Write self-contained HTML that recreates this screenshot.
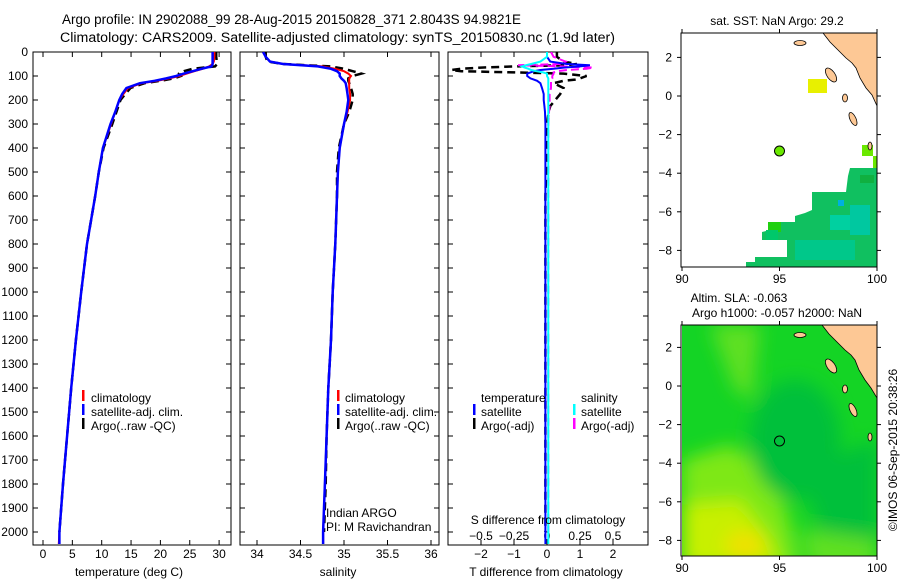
<!DOCTYPE html>
<html><head><meta charset="utf-8"><style>
body{margin:0;background:#fff}
svg{display:block;font-family:"Liberation Sans",sans-serif}
text{font-size:12px;fill:#000}
</style></head><body>
<svg id="c" width="900" height="580" viewBox="0 0 900 580">
<defs>
<clipPath id="cp1"><rect x="33" y="52" width="198" height="493"/></clipPath>
<clipPath id="cp2"><rect x="240" y="52" width="199" height="493"/></clipPath>
<clipPath id="cp3"><rect x="448" y="52" width="200" height="493"/></clipPath>
<clipPath id="cm1"><rect x="682" y="33" width="195" height="234"/></clipPath>
<clipPath id="cm2"><rect x="682" y="325" width="195" height="231"/></clipPath>
<filter id="bl"><feGaussianBlur stdDeviation="9"/></filter>
</defs>
<text x="62" y="24" style="font-size:13.5px" textLength="459" lengthAdjust="spacingAndGlyphs">Argo profile: IN 2902088_99 28-Aug-2015 20150828_371 2.8043S 94.9821E</text>
<text x="60" y="42" style="font-size:13.5px" textLength="555" lengthAdjust="spacingAndGlyphs">Climatology: CARS2009. Satellite-adjusted climatology: synTS_20150830.nc (1.9d later)</text>
<g id="axes"></g>
<g id="marks"></g>

<!-- map 1 -->
<g clip-path="url(#cm1)">
<rect x="682" y="33" width="195" height="234" fill="#fff"/>
<polygon fill="#10c060" points="854,168 877,168 877,267 746,267 746,262 755,262 755,257 787,257 787,240 762,240 762,232 770,230 770,222 795,222 795,216 805,213 812,210 812,192 846,192 848,176 850,168"/>
<rect x="768" y="222" width="13" height="10" fill="#20d010"/>
<rect x="766" y="230" width="12" height="10" fill="#00c86a"/>
<rect x="795" y="240" width="60" height="20" fill="#00c88a"/>
<rect x="830" y="215" width="20" height="15" fill="#00d0a0"/>
<rect x="850" y="205" width="20" height="30" fill="#00c8a0"/>
<rect x="838" y="200" width="6" height="6" fill="#00b0e0"/>
<rect x="860" y="175" width="14" height="8" fill="#10b040"/>
<rect x="808" y="79" width="19" height="14" fill="#e8f000"/>
<rect x="862" y="145" width="11" height="11" fill="#6ae800"/>
<rect x="873" y="156" width="4" height="12" fill="#6ae800"/>
<polygon fill="#fdc895" stroke="#000" stroke-width="0.8" points="823,33 830,42 838,50 846,58 852,63 856,68 860,78 866,88 872,95 877,106 877,33"/>
<ellipse cx="800" cy="43" rx="6" ry="2.5" fill="#fdc895" stroke="#000" stroke-width="0.8"/>
<ellipse cx="831" cy="75" rx="4" ry="8" transform="rotate(-35 831 75)" fill="#fdc895" stroke="#000" stroke-width="0.8"/>
<ellipse cx="853" cy="119" rx="3" ry="7" transform="rotate(-25 853 119)" fill="#fdc895" stroke="#000" stroke-width="0.8"/>
<ellipse cx="845" cy="98" rx="2.5" ry="4" fill="#fdc895" stroke="#000" stroke-width="0.8"/>
<ellipse cx="870" cy="146" rx="2" ry="4" fill="#fdc895" stroke="#000" stroke-width="0.8"/>
<circle cx="779.5" cy="151" r="5" fill="#6ae800" stroke="#000" stroke-width="1"/>
</g>
<rect x="681" y="33" width="196" height="234" fill="none" stroke="#000"/>
<text x="777" y="25" text-anchor="middle">sat. SST: NaN Argo: 29.2</text>

<!-- map 2 -->
<g clip-path="url(#cm2)">
<rect x="682" y="325" width="195" height="231" fill="#14d425"/>
<g filter="url(#bl)">
<polygon fill="#7ee818" points="682,460 730,445 770,470 790,520 800,570 682,570"/>
<polygon fill="#c8f000" points="682,505 740,500 770,540 780,570 682,570"/>
<ellipse cx="745" cy="545" rx="20" ry="14" fill="#f0e000"/>
<polygon fill="#5ee020" points="710,325 760,325 752,400 735,390"/>
<ellipse cx="795" cy="440" rx="45" ry="60" fill="#06c03a"/>
<polygon fill="#06c03a" points="800,470 877,440 877,540 820,530"/>
<polygon fill="#60e020" points="800,530 877,540 877,570 810,570"/>
</g>
<polygon fill="#fdc895" stroke="#000" stroke-width="0.8" points="822,325 829,334 837,342 845,350 851,355 855,360 859,370 865,380 871,388 877,398 877,325"/>
<ellipse cx="800" cy="335" rx="6" ry="2.5" fill="#fdc895" stroke="#000" stroke-width="0.8"/>
<ellipse cx="831" cy="366" rx="4" ry="8" transform="rotate(-35 831 366)" fill="#fdc895" stroke="#000" stroke-width="0.8"/>
<ellipse cx="853" cy="410" rx="3" ry="7" transform="rotate(-25 853 410)" fill="#fdc895" stroke="#000" stroke-width="0.8"/>
<ellipse cx="845" cy="389" rx="2.5" ry="4" fill="#fdc895" stroke="#000" stroke-width="0.8"/>
<ellipse cx="870" cy="437" rx="2" ry="4" fill="#fdc895" stroke="#000" stroke-width="0.8"/>
<circle cx="779.5" cy="441" r="5" fill="none" stroke="#000" stroke-width="1"/>
</g>
<rect x="681" y="325" width="196" height="231" fill="none" stroke="#000"/>
<text x="739" y="302" text-anchor="middle">Altim. SLA: -0.063</text>
<text x="777" y="317" text-anchor="middle">Argo h1000: -0.057 h2000: NaN</text>
<text x="0" y="0" transform="translate(897,450) rotate(-90)" text-anchor="middle">©IMOS 06-Sep-2015 20:38:26</text>

<!-- legends -->
<g>
<rect x="82" y="390" width="2.5" height="11" fill="#f00"/><text x="91" y="402">climatology</text>
<rect x="82" y="404" width="2.5" height="11" fill="#00f"/><text x="91" y="416">satellite-adj. clim.</text>
<rect x="82" y="418" width="2.5" height="11" fill="#000"/><text x="91" y="430">Argo(..raw -QC)</text>
</g>
<g>
<rect x="337" y="390" width="2.5" height="11" fill="#f00"/><text x="345" y="402">climatology</text>
<rect x="337" y="404" width="2.5" height="11" fill="#00f"/><text x="345" y="416">satellite-adj. clim.</text>
<rect x="337" y="418" width="2.5" height="11" fill="#000"/><text x="345" y="430">Argo(..raw -QC)</text>
<text x="326" y="517">Indian ARGO</text><text x="326" y="531">PI: M Ravichandran</text>
</g>
<g>
<text x="481" y="402">temperature</text><text x="581" y="402">salinity</text>
<rect x="473" y="404" width="2.5" height="11" fill="#00f"/><text x="481" y="416">satellite</text>
<rect x="473" y="418" width="2.5" height="11" fill="#000"/><text x="481" y="430">Argo(-adj)</text>
<rect x="573" y="404" width="2.5" height="11" fill="#0ff"/><text x="581" y="416">satellite</text>
<rect x="573" y="418" width="2.5" height="11" fill="#f0f"/><text x="581" y="430">Argo(-adj)</text>
</g>
<text x="548" y="524" text-anchor="middle">S difference from climatology</text>
<text x="129" y="576" text-anchor="middle">temperature (deg C)</text>
<text x="338" y="576" text-anchor="middle">salinity</text>
<text x="546" y="576" text-anchor="middle">T difference from climatology</text>
</svg>
<script>
const depthTicks=[0,100,200,300,400,500,600,700,800,900,1000,1100,1200,1300,1400,1500,1600,1700,1800,1900,2000];
const tempTicks=[0,5,10,15,20,25,30];
const salTicks=[34,34.5,35,35.5,36];
const tDiffTicks=[-2,-1,0,1,2];
const sDiffTicks=[-0.5,-0.25,0,0.25,0.5];
const sDiffLabels=["-0.5","-0.25","0","0.25","0.5"];
const latTicks=[2,0,-2,-4,-6,-8];
const lonTicks=[90,95,100];

const depths=[0,20,40,50,60,70,80,90,100,110,120,130,150,175,200,250,300,400,500,600,800,1000,1200,1400,1600,1800,2000,2050];
const tempClim=[29.2,29.2,29.1,28.9,28.3,27.2,25.8,24.5,23.2,21.5,19.5,16.8,14.5,13.7,13.0,12.3,11.6,10.2,9.5,8.9,7.5,6.5,5.6,4.8,4.1,3.4,2.8,2.7];
const tempSat=[28.9,28.9,28.9,28.9,28.7,27.0,25.5,24.0,22.7,21.0,19.0,16.5,14.2,13.5,13.0,12.3,11.5,10.2,9.5,8.9,7.5,6.5,5.6,4.8,4.1,3.4,2.8,2.8];
const tempArgo=[29.5,29.5,29.6,29.7,29.3,25.5,24.0,23.2,23.5,22.3,20.0,17.3,14.9,14.0,13.2,12.5,11.8,10.3,9.5,8.9,7.5,6.5,5.6,4.8,4.1,3.4,2.8,null];
const salClim=[34.07,34.1,34.15,34.3,34.75,34.9,35.0,35.05,35.08,35.06,35.06,35.06,35.06,35.07,35.07,35.04,35.0,34.95,34.93,34.92,34.9,34.87,34.85,34.82,34.8,34.78,34.76,34.76];
const salSat=[34.07,34.1,34.15,34.3,34.7,34.85,34.92,34.95,34.95,34.97,35.0,35.02,35.03,35.04,35.05,35.03,35.0,34.95,34.93,34.92,34.9,34.87,34.85,34.82,34.8,34.78,34.76,34.76];
const salArgo=[34.1,34.1,34.12,34.3,34.85,35.0,35.1,35.2,35.1,35.05,35.05,35.06,35.08,35.1,35.1,35.06,35.0,34.94,34.92,34.92,34.9,34.87,34.85,34.82,34.8,34.79,34.77,null];

const dDepths=[0,20,40,50,55,60,65,70,75,80,85,90,100,110,115,120,130,150,175,200,225,250,300,400,600,1000,1500,2000,2050];
const tDiffSat=[0,0,0.1,0.6,1.3,1.0,0.5,0.2,-0.2,-0.4,-0.5,-0.6,-0.6,-0.5,-0.4,-0.3,-0.2,-0.15,-0.1,-0.1,-0.08,-0.06,-0.05,-0.05,-0.05,-0.05,-0.05,-0.05,-0.05];
const tDiffArgo=[0.3,0.3,0.5,0.9,0.6,-1.0,-2.0,-2.6,-2.9,-2.6,-1.0,0.5,1.2,1.0,0.85,0.5,0.2,0.5,0.4,0.25,0.1,0.05,0,0,-0.05,-0.05,-0.05,-0.05,null];
const sDiffSat=[0,0,-0.05,-0.12,-0.16,-0.19,-0.17,-0.14,-0.12,-0.08,-0.03,0,0,0.01,0.01,0.01,0.01,0.01,0.01,0.01,0.01,0.01,0.01,0.01,0.01,0.01,0.01,0.01,0.01];
const sDiffArgo=[0.03,0.05,0.14,0.1,-0.22,0.1,0.35,0.3,0.15,0.08,0.05,0.05,0.04,0.04,0.03,0.03,0.03,0.03,0.02,0.02,0.02,0.015,0.01,0.01,0.01,0.01,0.01,0.01,null];

const NS='http://www.w3.org/2000/svg';
const axes=document.getElementById('axes'), marks=document.getElementById('marks');
function mk(tag,at,par){const e=document.createElementNS(NS,tag);for(const k in at)e.setAttribute(k,at[k]);(par||axes).appendChild(e);return e;}
const yD=d=>52+d*0.24;
const xT=t=>43+t*5.87;
const xS=s=>257+(s-34)*87;
const xTd=v=>547+v*33;
const xSd=v=>547+v*132;
const panels=[[33,231],[240,439],[448,648]];
panels.forEach(([a,b],i)=>{
  const r=mk('rect',{x:a,y:52,width:b-a,height:493,fill:'none',stroke:'#000'});
  
  
  depthTicks.forEach(d=>{
    mk('line',{x1:a,x2:a+5,y1:yD(d),y2:yD(d),stroke:'#000'});
    mk('line',{x1:b,x2:b-5,y1:yD(d),y2:yD(d),stroke:'#000'});
  });
});
depthTicks.forEach(d=>{const t=mk('text',{x:28,y:yD(d)+4,'text-anchor':'end'});t.textContent=d;
  });
function xticks(vals,fx,labs,ylab){vals.forEach((v,i)=>{const x=fx(v);
  mk('line',{x1:x,x2:x,y1:545,y2:540,stroke:'#000'});mk('line',{x1:x,x2:x,y1:52,y2:57,stroke:'#000'});
  const t=mk('text',{x:x,y:ylab,'text-anchor':'middle'});t.textContent=labs?labs[i]:v;
  });}
xticks(tempTicks,xT,null,558);
xticks(salTicks,xS,null,558);
xticks(tDiffTicks,xTd,tDiffTicks.map(v=>v<0?'\u2212'+(-v):v),558);
sDiffTicks.forEach((v,i)=>{const t=mk('text',{x:xSd(v),y:540,'text-anchor':'middle'});t.textContent=sDiffLabels[i].replace('-','\u2212');
  });
function line(xs,ds,fx,col,dash,clip,name,w){let p='',pen=false;
  xs.forEach((v,i)=>{if(v===null){pen=false;return;}p+=(pen?'L':'M')+fx(v).toFixed(1)+' '+yD(ds[i]).toFixed(1);pen=true;});
  const at={d:p,fill:'none',stroke:col,'stroke-width':w||2,'clip-path':'url(#'+clip+')'};if(dash)at['stroke-dasharray']=dash;
  const e=mk('path',at,marks);
  
  }
line(tempArgo,depths,xT,'#000','8 5','cp1','temp-argo-line',2.5);
line(tempClim,depths,xT,'#f00',null,'cp1','temp-climatology-line');
line(tempSat,depths,xT,'#00f',null,'cp1','temp-satellite-line',2.5);
line(salArgo,depths,xS,'#000','8 5','cp2','sal-argo-line',2.5);
line(salClim,depths,xS,'#f00',null,'cp2','sal-climatology-line');
line(salSat,depths,xS,'#00f',null,'cp2','sal-satellite-line',2.5);
line(tDiffArgo,dDepths,xTd,'#000','8 5','cp3','t-diff-argo-line',2.5);
line(sDiffArgo,dDepths,xSd,'#f0f','8 4','cp3','s-diff-argo-line');
line(tDiffSat,dDepths,xTd,'#00f',null,'cp3','t-diff-satellite-line');
line(sDiffSat,dDepths,xSd,'#0ff',null,'cp3','s-diff-satellite-line');
// maps axes
const xL=l=>682+(l-90)*19.5;
[[96,33,267],[386,325,556]].forEach(([y0,top,bot])=>{
  latTicks.forEach(l=>{const y=y0-l*19.3;
    mk('line',{x1:677,x2:681,y1:y,y2:y,stroke:'#000'});mk('line',{x1:877,x2:881,y1:y,y2:y,stroke:'#000'});
    const t=mk('text',{x:672,y:y+4,'text-anchor':'end'});t.textContent=l<0?'\u2212'+(-l):l;
    });
  lonTicks.forEach(l=>{const x=xL(l);
    mk('line',{x1:x,x2:x,y1:top,y2:top-4,stroke:'#000'});mk('line',{x1:x,x2:x,y1:bot,y2:bot+4,stroke:'#000'});
    const t=mk('text',{x:x,y:bot+16,'text-anchor':'middle'});t.textContent=l;
    });
});
</script>
</body></html>
